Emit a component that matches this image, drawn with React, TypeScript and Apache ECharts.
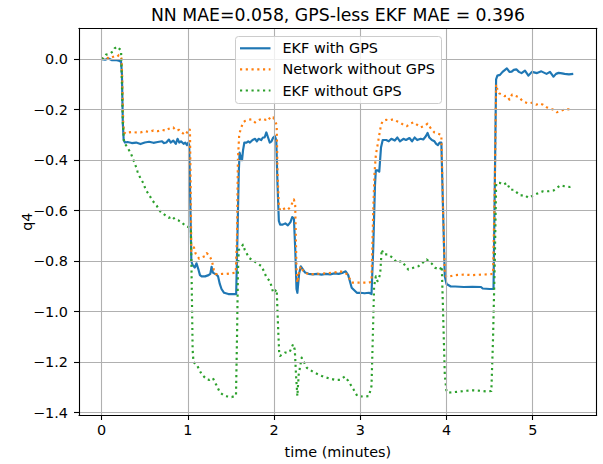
import React, { useEffect, useRef } from "react";
import * as echarts from "echarts";

// Quaternion component q4 over time (minutes) for three estimators.
const ekfWithGps: [number, number][] = [
  [0, 0.0], [0.04, -0.002], [0.08, 0.003], [0.12, -0.004], [0.16, -0.003], [0.2, -0.006], [0.225, -0.01],
  [0.235, -0.06], [0.245, -0.25], [0.255, -0.32],
  [0.27, -0.33], [0.3, -0.328], [0.35, -0.332], [0.4, -0.33], [0.45, -0.336], [0.5, -0.33], [0.55, -0.327],
  [0.6, -0.331], [0.65, -0.328], [0.7, -0.325], [0.72, -0.332], [0.75, -0.33], [0.78, -0.318], [0.8, -0.33],
  [0.83, -0.322], [0.86, -0.335], [0.88, -0.315], [0.9, -0.33], [0.92, -0.325], [0.95, -0.335], [0.97, -0.33],
  [0.99, -0.34], [1.005, -0.33], [1.015, -0.34],
  [1.03, -0.6], [1.04, -0.8], [1.055, -0.815], [1.08, -0.825], [1.1, -0.808], [1.12, -0.83], [1.14, -0.855],
  [1.16, -0.86], [1.2, -0.86], [1.24, -0.855], [1.26, -0.85], [1.275, -0.822], [1.29, -0.845], [1.33, -0.853],
  [1.35, -0.86], [1.37, -0.89], [1.39, -0.91], [1.42, -0.925], [1.47, -0.93], [1.52, -0.93], [1.56, -0.93],
  [1.575, -0.7], [1.59, -0.45], [1.6, -0.37], [1.615, -0.39], [1.628, -0.4], [1.64, -0.36], [1.655, -0.33],
  [1.68, -0.33], [1.7, -0.325], [1.72, -0.33], [1.75, -0.32], [1.78, -0.315], [1.8, -0.325], [1.82, -0.315],
  [1.85, -0.32], [1.87, -0.31], [1.89, -0.31], [1.91, -0.29], [1.93, -0.31], [1.95, -0.33], [1.97, -0.325],
  [1.99, -0.31], [2.01, -0.305], [2.025, -0.32],
  [2.04, -0.5], [2.055, -0.64], [2.07, -0.655], [2.1, -0.655], [2.13, -0.65], [2.16, -0.658], [2.19, -0.645],
  [2.21, -0.625], [2.23, -0.63],
  [2.245, -0.75], [2.26, -0.91], [2.27, -0.925], [2.29, -0.85], [2.31, -0.82], [2.33, -0.83], [2.36, -0.845],
  [2.4, -0.85], [2.45, -0.852], [2.5, -0.85], [2.55, -0.853], [2.6, -0.85], [2.65, -0.852], [2.7, -0.848],
  [2.75, -0.85], [2.8, -0.845], [2.83, -0.84], [2.86, -0.855], [2.88, -0.88], [2.9, -0.905], [2.93, -0.915],
  [2.96, -0.925], [3.0, -0.925], [3.05, -0.927], [3.1, -0.925], [3.13, -0.93],
  [3.15, -0.75], [3.17, -0.5], [3.18, -0.44], [3.2, -0.44], [3.22, -0.445], [3.24, -0.35], [3.26, -0.32],
  [3.3, -0.32], [3.33, -0.325], [3.36, -0.315], [3.4, -0.322], [3.43, -0.31], [3.46, -0.325], [3.5, -0.315],
  [3.53, -0.32], [3.57, -0.312], [3.6, -0.325], [3.63, -0.31], [3.66, -0.32], [3.7, -0.315], [3.73, -0.318],
  [3.76, -0.305], [3.78, -0.292], [3.8, -0.31], [3.83, -0.32], [3.86, -0.325], [3.88, -0.335], [3.9, -0.34],
  [3.92, -0.33], [3.94, -0.33],
  [3.96, -0.6], [3.98, -0.86], [4.0, -0.89], [4.05, -0.9], [4.1, -0.9], [4.2, -0.902], [4.3, -0.901],
  [4.4, -0.902], [4.42, -0.908], [4.5, -0.91], [4.545, -0.91],
  [4.56, -0.5], [4.575, -0.08], [4.59, -0.065], [4.62, -0.062], [4.65, -0.05], [4.7, -0.036], [4.73, -0.05],
  [4.756, -0.049], [4.78, -0.042], [4.81, -0.04], [4.84, -0.05], [4.87, -0.055], [4.91, -0.045], [4.95, -0.065],
  [4.99, -0.05], [5.05, -0.055], [5.1, -0.048], [5.16, -0.058], [5.2, -0.05], [5.24, -0.069], [5.27, -0.058],
  [5.3, -0.054], [5.34, -0.056], [5.37, -0.058], [5.42, -0.06], [5.47, -0.058],
];

const networkWithoutGps: [number, number][] = [
  [0, 0.0], [0.03, 0.005], [0.06, 0.002], [0.09, 0.01], [0.12, 0.008], [0.15, 0.012], [0.18, 0.01],
  [0.2, 0.017], [0.22, 0.012], [0.232, 0.0],
  [0.24, -0.1], [0.25, -0.25], [0.26, -0.29],
  [0.28, -0.295], [0.31, -0.29], [0.35, -0.288], [0.4, -0.29], [0.45, -0.29], [0.5, -0.285], [0.55, -0.288],
  [0.6, -0.282], [0.65, -0.285], [0.7, -0.28], [0.75, -0.283], [0.78, -0.275], [0.83, -0.27], [0.86, -0.282],
  [0.9, -0.28], [0.93, -0.29], [0.966, -0.3], [0.99, -0.29], [1.01, -0.275], [1.024, -0.28],
  [1.032, -0.5], [1.04, -0.76], [1.05, -0.755], [1.07, -0.745], [1.09, -0.77], [1.11, -0.78], [1.13, -0.79],
  [1.16, -0.785], [1.2, -0.78], [1.22, -0.768], [1.24, -0.775], [1.26, -0.785], [1.28, -0.8], [1.3, -0.833],
  [1.32, -0.85], [1.35, -0.852], [1.4, -0.85], [1.45, -0.85], [1.5, -0.848], [1.555, -0.845],
  [1.57, -0.7], [1.58, -0.4], [1.595, -0.3], [1.61, -0.28], [1.625, -0.265], [1.64, -0.25], [1.66, -0.245],
  [1.7, -0.24], [1.74, -0.238], [1.78, -0.25], [1.8, -0.245], [1.83, -0.24], [1.87, -0.235], [1.9, -0.24],
  [1.93, -0.23], [1.96, -0.238], [1.99, -0.23], [2.01, -0.245], [2.03, -0.26],
  [2.04, -0.45], [2.055, -0.58], [2.07, -0.6], [2.1, -0.595], [2.13, -0.59], [2.16, -0.595], [2.19, -0.585],
  [2.21, -0.57], [2.23, -0.555], [2.245, -0.58],
  [2.26, -0.83], [2.27, -0.885], [2.29, -0.84], [2.31, -0.82], [2.33, -0.835], [2.36, -0.845], [2.4, -0.852],
  [2.5, -0.85], [2.6, -0.848], [2.7, -0.845], [2.76, -0.84], [2.8, -0.843], [2.84, -0.85], [2.87, -0.865],
  [2.9, -0.885], [3.0, -0.885], [3.1, -0.885], [3.13, -0.88],
  [3.15, -0.6], [3.165, -0.45], [3.18, -0.38], [3.2, -0.34], [3.22, -0.3], [3.24, -0.26], [3.26, -0.245],
  [3.3, -0.24], [3.34, -0.242], [3.38, -0.238], [3.42, -0.245], [3.46, -0.25], [3.5, -0.26], [3.54, -0.265],
  [3.58, -0.255], [3.62, -0.25], [3.66, -0.26], [3.7, -0.27], [3.74, -0.265], [3.78, -0.255], [3.82, -0.275],
  [3.86, -0.29], [3.9, -0.295], [3.94, -0.3],
  [3.96, -0.6], [3.98, -0.85], [4.0, -0.862], [4.04, -0.86], [4.1, -0.855], [4.2, -0.853], [4.3, -0.855],
  [4.4, -0.853], [4.5, -0.852], [4.54, -0.85],
  [4.56, -0.5], [4.575, -0.1], [4.59, -0.12], [4.61, -0.135], [4.64, -0.14], [4.67, -0.146], [4.7, -0.145],
  [4.73, -0.16], [4.76, -0.14], [4.8, -0.145], [4.84, -0.15], [4.88, -0.165], [4.91, -0.17], [4.95, -0.175],
  [5.0, -0.172], [5.04, -0.18], [5.08, -0.175], [5.12, -0.18], [5.16, -0.19], [5.2, -0.195], [5.24, -0.2],
  [5.28, -0.21], [5.32, -0.205], [5.36, -0.2], [5.4, -0.198], [5.46, -0.2],
];

const ekfWithoutGps: [number, number][] = [
  [0, 0.0], [0.02, 0.005], [0.05, 0.018], [0.08, 0.02], [0.1, 0.024], [0.13, 0.03], [0.15, 0.043],
  [0.18, 0.05], [0.21, 0.04], [0.225, 0.035],
  [0.235, -0.1], [0.245, -0.25], [0.26, -0.33],
  [0.3, -0.35], [0.34, -0.374], [0.367, -0.398], [0.394, -0.422], [0.418, -0.447], [0.448, -0.47],
  [0.487, -0.493], [0.51, -0.517], [0.549, -0.536], [0.587, -0.559], [0.638, -0.58], [0.684, -0.605],
  [0.742, -0.619], [0.781, -0.628], [0.819, -0.622], [0.85, -0.635], [0.889, -0.638], [0.935, -0.648],
  [0.974, -0.662], [1.016, -0.665], [1.035, -0.675],
  [1.045, -0.9], [1.055, -1.15], [1.065, -1.2], [1.1, -1.208], [1.16, -1.248], [1.218, -1.268], [1.25, -1.27],
  [1.29, -1.263], [1.33, -1.29], [1.372, -1.32], [1.43, -1.334], [1.508, -1.338], [1.558, -1.332],
  [1.57, -1.1], [1.58, -0.85], [1.59, -0.755], [1.61, -0.75], [1.64, -0.734], [1.66, -0.755], [1.71, -0.787],
  [1.77, -0.8], [1.856, -0.82], [1.915, -0.866], [1.953, -0.879], [1.99, -0.925], [2.03, -0.912],
  [2.045, -1.05], [2.06, -1.17], [2.07, -1.175], [2.127, -1.162], [2.18, -1.16], [2.22, -1.129], [2.24, -1.15],
  [2.255, -1.254], [2.27, -1.334], [2.285, -1.25], [2.32, -1.182], [2.38, -1.222], [2.455, -1.239],
  [2.51, -1.248], [2.57, -1.257], [2.65, -1.265], [2.71, -1.27], [2.765, -1.27], [2.82, -1.257], [2.86, -1.274],
  [2.92, -1.307], [2.965, -1.334], [3.035, -1.336], [3.1, -1.334], [3.13, -1.294],
  [3.145, -1.1], [3.16, -0.9], [3.18, -0.86], [3.2, -0.879], [3.23, -0.853], [3.248, -0.754], [3.27, -0.773],
  [3.32, -0.773], [3.38, -0.787], [3.42, -0.804], [3.48, -0.8], [3.557, -0.833], [3.615, -0.826],
  [3.673, -0.82], [3.71, -0.81], [3.77, -0.793], [3.83, -0.81], [3.867, -0.826], [3.925, -0.833], [3.945, -0.82],
  [3.96, -1.0], [3.98, -1.25], [4.0, -1.318], [4.04, -1.32], [4.157, -1.316], [4.234, -1.313], [4.31, -1.311],
  [4.39, -1.313], [4.466, -1.316], [4.52, -1.314],
  [4.54, -1.1], [4.56, -0.8], [4.575, -0.5], [4.58, -0.49], [4.62, -0.49], [4.66, -0.497], [4.7, -0.49],
  [4.74, -0.517], [4.78, -0.517], [4.853, -0.539], [4.91, -0.539], [4.95, -0.549], [5.01, -0.539],
  [5.065, -0.53], [5.12, -0.523], [5.18, -0.523], [5.24, -0.52], [5.28, -0.51], [5.32, -0.5], [5.37, -0.503],
  [5.43, -0.506], [5.47, -0.503],
];

const seriesNames = ["EKF with GPS", "Network without GPS", "EKF without GPS"];
const seriesColors = ["#1f77b4", "#ff7f0e", "#2ca02c"];
const xTicks = [0, 1, 2, 3, 4, 5];
const yTicks = [0.0, -0.2, -0.4, -0.6, -0.8, -1.0, -1.2, -1.4];
const titleText = "NN MAE=0.058, GPS-less EKF MAE = 0.396";

const FONT = "DejaVu Sans";
const LW = 2.17;
const DOTS = [2.17, 3.58];
const X_MIN = -0.263;
const X_MAX = 5.742;
const Y_MIN = -1.409;
const Y_MAX = 0.1225;

const frameLine = { show: true, onZero: false, lineStyle: { color: "#000", width: 1.1 } };

export default function App() {
  const ref = useRef<HTMLDivElement>(null);

  useEffect(() => {
    if (!ref.current) return;
    const chart = echarts.init(ref.current, undefined, { renderer: "svg" });

    const legendX = 235.5;
    const legendY = 36.5;
    const rowYs = [48.3, 69.3, 90.5];
    const legendItems: any[] = [
      {
        type: "rect",
        shape: { x: legendX, y: legendY, width: 206, height: 67, r: 3 },
        style: { fill: "rgba(255,255,255,0.8)", stroke: "#cccccc", lineWidth: 1 },
        z: 100,
      },
    ];
    seriesNames.forEach((name, i) => {
      legendItems.push({
        type: "line",
        shape: { x1: 240, y1: rowYs[i], x2: 270.5, y2: rowYs[i] },
        style: {
          stroke: seriesColors[i],
          lineWidth: LW,
          lineDash: i === 0 ? null : DOTS,
          lineCap: "butt",
        },
        z: 101,
      });
      legendItems.push({
        type: "text",
        x: 282.5,
        y: rowYs[i],
        style: {
          text: name,
          fill: "#000",
          font: `14.4px "${FONT}"`,
          align: "left",
          verticalAlign: "middle",
          textAlign: "left",
          textVerticalAlign: "middle",
        },
        z: 101,
      });
    });

    const option: any = {
      animation: false,
      backgroundColor: "#ffffff",
      textStyle: { fontFamily: FONT },
      grid: { left: 79, right: 6.3, top: 28.3, bottom: 49 },
      xAxis: [
        {
          type: "value",
          min: X_MIN,
          max: X_MAX,
          name: "time (minutes)",
          nameLocation: "middle",
          nameGap: 30,
          nameMoveOverlap: false,
          nameTextStyle: { fontSize: 14.4, color: "#000", fontFamily: FONT },
          axisLine: frameLine,
          axisTick: {
            show: true,
            inside: false,
            length: 5,
            customValues: xTicks,
            lineStyle: { color: "#000", width: 1.1 },
          },
          axisLabel: {
            show: true,
            customValues: xTicks,
            margin: 8,
            fontSize: 14.4,
            color: "#000",
            fontFamily: FONT,
            formatter: (v: number) => String(v),
          },
          splitLine: { show: true, lineStyle: { color: "#b0b0b0", width: 1.1 } },
          z: 5,
        },
        {
          type: "value",
          position: "top",
          min: X_MIN,
          max: X_MAX,
          axisLine: frameLine,
          axisTick: { show: false },
          axisLabel: { show: false },
          splitLine: { show: false },
          z: 5,
        },
      ],
      yAxis: [
        {
          type: "value",
          min: Y_MIN,
          max: Y_MAX,
          name: "q4",
          nameLocation: "middle",
          nameGap: 45,
          nameMoveOverlap: false,
          nameTextStyle: { fontSize: 14.4, color: "#000", fontFamily: FONT },
          axisLine: frameLine,
          axisTick: {
            show: true,
            inside: false,
            length: 5,
            customValues: yTicks,
            lineStyle: { color: "#000", width: 1.1 },
          },
          axisLabel: {
            show: true,
            customValues: yTicks,
            margin: 11,
            fontSize: 14.4,
            color: "#000",
            fontFamily: FONT,
            formatter: (v: number) =>
              Math.abs(v) < 1e-9 ? "0.0" : (v < 0 ? "\u2212" : "") + Math.abs(v).toFixed(1),
          },
          splitLine: { show: true, lineStyle: { color: "#b0b0b0", width: 1.1 } },
          z: 5,
        },
        {
          type: "value",
          position: "right",
          min: Y_MIN,
          max: Y_MAX,
          axisLine: frameLine,
          axisTick: { show: false },
          axisLabel: { show: false },
          splitLine: { show: false },
          z: 5,
        },
      ],
      series: [ekfWithGps, networkWithoutGps, ekfWithoutGps].map((data, i) => ({
        type: "line",
        name: seriesNames[i],
        xAxisIndex: 0,
        yAxisIndex: 0,
        data,
        symbol: "none",
        showSymbol: false,
        silent: true,
        clip: true,
        lineStyle: {
          color: seriesColors[i],
          width: LW,
          type: i === 0 ? "solid" : DOTS,
          cap: "butt",
          join: "round",
        },
        itemStyle: { color: seriesColors[i] },
      })),
      graphic: [
        {
          type: "text",
          x: 338,
          y: 15,
          style: {
            text: titleText,
            fill: "#000",
            font: `17.3px "${FONT}"`,
            align: "center",
            verticalAlign: "middle",
            textAlign: "center",
            textVerticalAlign: "middle",
          },
        },
        ...legendItems,
      ],
    };

    chart.setOption(option);
    return () => chart.dispose();
  }, []);

  return (
    <div
      ref={ref}
      style={{ position: "fixed", left: 0, top: 0, width: 603, height: 464, background: "#fff" }}
    />
  );
}
